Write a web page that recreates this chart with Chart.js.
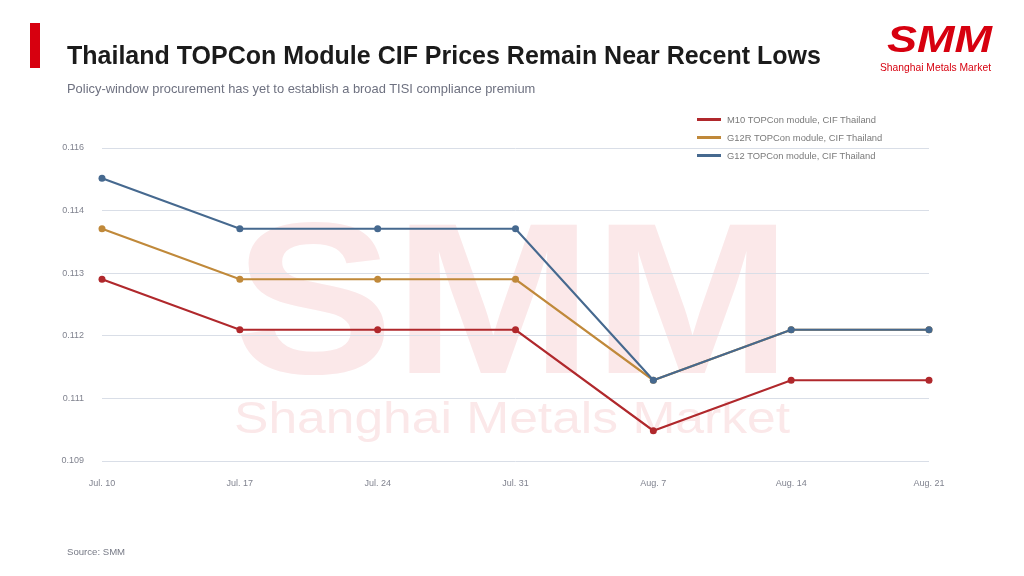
<!DOCTYPE html>
<html>
<head>
<meta charset="utf-8">
<script src="https://cdn.jsdelivr.net/npm/chart.js@4.4.1/dist/chart.umd.min.js"></script>
<style>
    html, body { margin: 0; padding: 0; background: #fff; }
    #wrap { position: relative; width: 1024px; height: 576px; overflow: hidden; font-family: "Liberation Sans", Arial, sans-serif; }
    #chart { position: absolute; left: 0; top: 0; }
    .bar { position: absolute; left: 30px; top: 23px; width: 10px; height: 45px; background: #d7000f; }
    .title { position: absolute; left: 67px; top: 41px; margin: 0; font-size: 25px; font-weight: bold; color: #1b1b1b; white-space: nowrap; }
    .subtitle { position: absolute; left: 67px; top: 81px; font-size: 12.9px; color: #6e7180; white-space: nowrap; }
    .source { position: absolute; left: 67px; top: 546px; font-size: 9.6px; color: #777a86; }
    #legend { position: absolute; left: 697px; top: 113px; font-size: 9.4px; color: #7a7a7a; }
    #legend .item { height: 18px; line-height: 14px; white-space: nowrap; }
    #legend .swatch { display: inline-block; width: 24px; height: 3px; vertical-align: middle; margin-right: 6px; position: relative; top: -1px; }
</style>
</head>
<body>
<div id="wrap">
    <canvas id="chart" width="1024" height="576"></canvas>
    <div class="bar"></div>
    <div class="title">Thailand TOPCon Module CIF Prices Remain Near Recent Lows</div>
    <div class="subtitle">Policy-window procurement has yet to establish a broad TISI compliance premium</div>
    <div id="legend"></div>
    <div class="source">Source: SMM</div>
</div>
<script>
/* ---------- DATA ---------- */
const weeks = ["Jul. 10", "Jul. 17", "Jul. 24", "Jul. 31", "Aug. 7", "Aug. 14", "Aug. 21"];
const seriesNames = ["M10 TOPCon module, CIF Thailand", "G12R TOPCon module, CIF Thailand", "G12 TOPCon module, CIF Thailand"];
const m10Prices = [0.113, 0.112, 0.112, 0.112, 0.110, 0.111, 0.111];
const g12rPrices = [0.114, 0.113, 0.113, 0.113, 0.111, 0.112, 0.112];
const g12Prices = [0.115, 0.114, 0.114, 0.114, 0.111, 0.112, 0.112];
const yRange = [0.1094, 0.1156];
const yTickCount = 6;

const colors = ["#b0282c", "#c0893a", "#46698f"];

/* ---------- HELPERS ---------- */
function fitText(ctx, text, x, baseline, width, font) {
    ctx.font = font;
    const w = ctx.measureText(text).width;
    ctx.save();
    ctx.translate(x, baseline);
    ctx.scale(width / w, 1);
    ctx.fillText(text, 0, 0);
    ctx.restore();
}

/* ---------- WATERMARK + LOGO ---------- */
const brand = {
    id: "brand",
    beforeDraw(chart) {
        const ctx = chart.ctx;
        ctx.save();
        ctx.textBaseline = "alphabetic";
        ctx.fillStyle = "#fbe8e9";
        fitText(ctx, "SMM", 234, 373, 558, 'bold 216px "Liberation Sans", Arial');
        fitText(ctx, "Shanghai Metals Market", 234, 433, 556, '44px "Liberation Sans", Arial');

        ctx.fillStyle = "#d7000f";
        fitText(ctx, "SMM", 887, 52, 105, 'italic bold 37px "Liberation Sans", Arial');
        fitText(ctx, "Shanghai Metals Market", 880, 71, 111, '10.5px "Liberation Sans", Arial');
        ctx.restore();
    }
};

/* ---------- CHART ---------- */
const chart = new Chart(document.getElementById("chart"), {
    type: "line",
    data: {
        labels: weeks,
        datasets: [m10Prices, g12rPrices, g12Prices].map((vals, i) => ({
            label: seriesNames[i],
            data: vals,
            borderColor: colors[i],
            backgroundColor: colors[i],
            borderWidth: 2.2,
            pointRadius: 3.5,
            pointBorderWidth: 0,
            tension: 0,
            clip: false,
            order: 2 - i
        }))
    },
    options: {
        responsive: false,
        animation: false,
        layout: { padding: { top: 148, right: 95, bottom: 0, left: 0 } },
        plugins: {
            legend: { display: false },
            tooltip: { enabled: false }
        },
        scales: {
            x: {
                offset: false,
                grid: { display: false },
                border: { display: false },
                ticks: {
                    color: "#80838f",
                    font: { family: "Liberation Sans", size: 9 },
                    padding: 9,
                    maxRotation: 0
                },
                afterFit: s => { s.height = 115; }
            },
            y: {
                min: yRange[0],
                max: yRange[1],
                grid: { color: "#d9dee7", lineWidth: 1, drawTicks: false },
                border: { display: false },
                ticks: {
                    count: yTickCount,
                    color: "#80838f",
                    font: { family: "Liberation Sans", size: 9 },
                    padding: 18,
                    callback: v => v.toFixed(3)
                },
                afterFit: s => { s.width = 102; }
            }
        }
    },
    plugins: [brand]
});

/* ---------- LEGEND ---------- */
const legend = document.getElementById("legend");
chart.data.datasets.forEach(ds => {
    const row = document.createElement("div");
    row.className = "item";
    row.innerHTML = '<span class="swatch" style="background:' + ds.borderColor + '"></span>' + ds.label;
    legend.appendChild(row);
});
</script>
</body>
</html>
